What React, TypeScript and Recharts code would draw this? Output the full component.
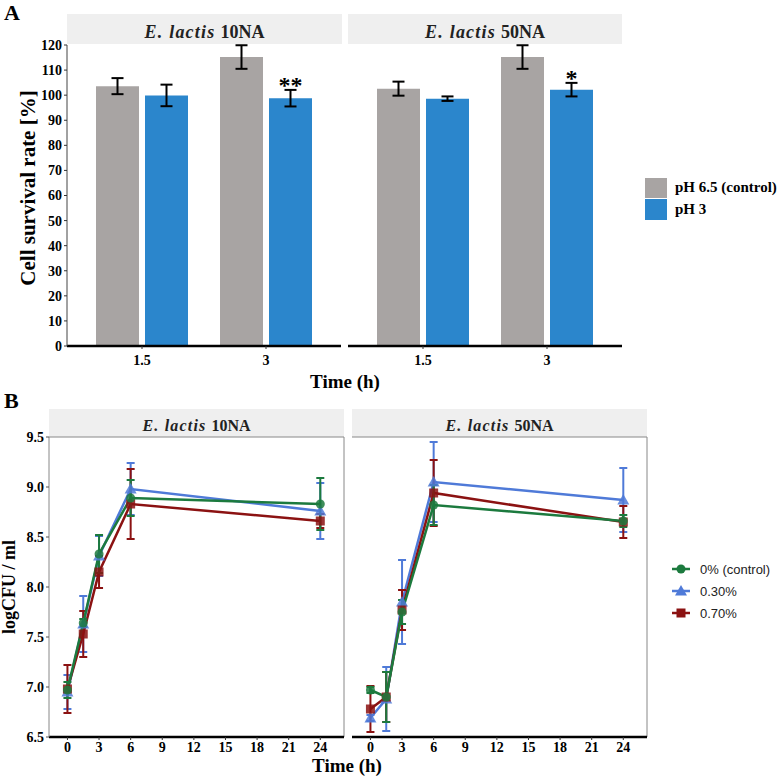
import React from "react";
import {
  Bar,
  BarChart,
  ErrorBar,
  LabelList,
  Line,
  LineChart,
  ReferenceLine,
  XAxis,
  YAxis,
} from "recharts";

const SERIF = "'Liberation Serif', 'Times New Roman', serif";
const SANS = "'Liberation Sans', Arial, sans-serif";

const GREY = "#a8a4a3";
const BLUE_BAR = "#2b86cc";
const GREEN = "#1c7a3e";
const BLUE = "#4f7ad8";
const RED = "#8b1212";

// panel A: survival after acid exposure
const phTimes = ["1.5", "3"];
const survivalTicks = [0, 10, 20, 30, 40, 50, 60, 70, 80, 90, 100, 110, 120];
const ctrl10 = [103.6, 115.2];
const ctrl10Sd = [3.2, 4.7];
const acid10 = [99.9, 98.8];
const acid10Sd = [4.3, 3.3];
const sig10 = ["", "**"];
const ctrl50 = [102.6, 115.2];
const ctrl50Sd = [2.8, 4.7];
const acid50 = [98.6, 102.2];
const acid50Sd = [0.9, 2.7];
const sig50 = ["", "*"];

// panel B: growth with bile salt
const hours = [0, 1.5, 3, 6, 24];
const hourTicks = [0, 3, 6, 9, 12, 15, 18, 21, 24];
const logTicks = [6.5, 7, 7.5, 8, 8.5, 9, 9.5];
const g10 = [6.97, 7.64, 8.33, 8.89, 8.83];
const g10Sd = [0.08, 0.04, 0.19, 0.18, 0.26];
const b10 = [6.95, 7.63, 8.31, 8.98, 8.76];
const b10Sd = [0.17, 0.28, 0.2, 0.26, 0.28];
const r10 = [6.98, 7.53, 8.15, 8.83, 8.66];
const r10Sd = [0.24, 0.23, 0.16, 0.35, 0.07];
const g50 = [6.97, 6.9, 7.75, 8.82, 8.66];
const g50Sd = [0.03, 0.25, 0.12, 0.2, 0.06];
const b50 = [6.69, 6.88, 7.85, 9.05, 8.87];
const b50Sd = [0.03, 0.32, 0.42, 0.4, 0.32];
const r50 = [6.78, 6.9, 7.77, 8.94, 8.65];
const r50Sd = [0.23, 0.25, 0.2, 0.33, 0.16];

const A_PLOT_H = 301;

const boldTick = { fill: "#000", fontSize: 14, fontWeight: 700, fontFamily: SERIF };

function Strip({ left, top, width, height, strain, size }: any) {
  return (
    <div
      style={{
        position: "absolute",
        left,
        top,
        width,
        height,
        background: "#efefef",
        display: "flex",
        alignItems: "flex-end",
        justifyContent: "center",
        fontFamily: SERIF,
        fontWeight: 700,
        fontSize: size,
        lineHeight: 1,
        paddingBottom: 3,
        boxSizing: "border-box",
        color: "#222",
      }}
    >
      <span style={{ fontStyle: "italic", letterSpacing: 1.2, marginRight: 5 }}>E. lactis</span>
      <span>{strain}</span>
    </div>
  );
}

function SurvivalFacet({ left, ctrl, ctrlSd, acid, acidSd, sig, showY }: any) {
  const rows = phTimes.map((t, i) => ({
    time: t,
    ctrl: ctrl[i],
    ctrlSd: ctrlSd[i],
    acid: acid[i],
    acidSd: acidSd[i],
    sig: sig[i],
  }));
  const w = showY ? 347 : 284;
  const starLabel = (p: any) => {
    const s = sig[p.index];
    if (!s) return null;
    const errPx = (acidSd[p.index] / 120) * A_PLOT_H;
    return (
      <text
        key={"s" + p.index}
        x={p.x + p.width / 2}
        y={p.y - errPx + 3}
        textAnchor="middle"
        fontSize={24}
        fontWeight={700}
        fontFamily={SERIF}
        fill="#000"
      >
        {s}
      </text>
    );
  };
  return (
    <div style={{ position: "absolute", left, top: 30 }}>
      <BarChart
        width={w}
        height={346}
        data={rows}
        margin={{ top: 15, right: 6, bottom: 0, left: showY ? 0 : 4 }}
        barSize={43}
        barGap={6}
      >
        <XAxis
          dataKey="time"
          height={30}
          padding={{ left: 13, right: 13 }}
          axisLine={{ stroke: "#000", strokeWidth: 2.5 }}
          tickLine={{ stroke: "#333" }}
          tickSize={3}
          tickMargin={6}
          tick={boldTick}
        />
        <YAxis
          yAxisId="l"
          domain={[0, 120]}
          ticks={survivalTicks}
          interval={0}
          width={showY ? 67 : 0}
          tick={showY ? boldTick : false}
          tickLine={showY ? { stroke: "#333" } : false}
          tickSize={3}
          tickMargin={2}
          axisLine={showY ? { stroke: "#444", strokeWidth: 1 } : { stroke: "#000", strokeWidth: 2.5 }}
        />
        <YAxis
          yAxisId="r"
          orientation="right"
          domain={[0, 120]}
          width={0}
          tick={false}
          tickLine={false}
          axisLine={{ stroke: "#000", strokeWidth: 2.5 }}
        />
        <Bar yAxisId="l" dataKey="ctrl" fill={GREY} isAnimationActive={false}>
          <ErrorBar dataKey="ctrlSd" direction="y" width={6} stroke="#000" strokeWidth={2} />
        </Bar>
        <Bar yAxisId="l" dataKey="acid" fill={BLUE_BAR} isAnimationActive={false}>
          <ErrorBar dataKey="acidSd" direction="y" width={6} stroke="#000" strokeWidth={2} />
          <LabelList dataKey="sig" content={starLabel} />
        </Bar>
      </BarChart>
    </div>
  );
}

const circleDot = (color: string) => (p: any) => (
  <circle key={"c" + p.index} cx={p.cx} cy={p.cy} r={4.5} fill={color} fillOpacity={0.85} />
);
const triDot = (color: string) => (p: any) => (
  <path
    key={"t" + p.index}
    d={`M${p.cx},${p.cy - 6}L${p.cx + 6},${p.cy + 4.5}L${p.cx - 6},${p.cy + 4.5}Z`}
    fill={color}
    fillOpacity={0.85}
  />
);
const squareDot = (color: string) => (p: any) => (
  <rect key={"q" + p.index} x={p.cx - 4.5} y={p.cy - 4.5} width={9} height={9} fill={color} fillOpacity={0.85} />
);

function GrowthFacet({ left, g, gSd, b, bSd, r, rSd, showY }: any) {
  const rows = hours.map((t, i) => ({
    t,
    g: g[i],
    gSd: gSd[i],
    b: b[i],
    bSd: bSd[i],
    r: r[i],
    rSd: rSd[i],
  }));
  const w = showY ? 350 : 305;
  return (
    <div style={{ position: "absolute", left, top: 425 }}>
      <LineChart width={w} height={340} data={rows} margin={{ top: 12, right: 6, bottom: 0, left: showY ? 0 : 4 }}>
        <XAxis
          type="number"
          dataKey="t"
          domain={[-1.75, 26.25]}
          allowDataOverflow
          ticks={hourTicks}
          interval={0}
          height={28}
          axisLine={{ stroke: "#000", strokeWidth: 2.5 }}
          tickLine={{ stroke: "#333" }}
          tickSize={3}
          tickMargin={2}
          tick={boldTick}
        />
        <YAxis
          domain={[6.5, 9.5]}
          allowDataOverflow
          ticks={logTicks}
          interval={0}
          tickFormatter={(v: number) => v.toFixed(1)}
          width={showY ? 49 : 0}
          tick={showY ? boldTick : false}
          tickLine={showY ? { stroke: "#555" } : false}
          tickSize={3}
          tickMargin={2}
          axisLine={{ stroke: "#888", strokeWidth: 1 }}
        />
        <ReferenceLine y={9.5} stroke="#888" strokeWidth={1} />
        <ReferenceLine x={26.25} stroke="#888" strokeWidth={1} />
        <Line dataKey="b" stroke={BLUE} strokeWidth={2.5} dot={triDot(BLUE)} activeDot={false} isAnimationActive={false}>
          <ErrorBar dataKey="bSd" direction="y" width={4} stroke={BLUE} strokeWidth={2} />
        </Line>
        <Line dataKey="r" stroke={RED} strokeWidth={2.5} dot={squareDot(RED)} activeDot={false} isAnimationActive={false}>
          <ErrorBar dataKey="rSd" direction="y" width={4} stroke={RED} strokeWidth={2} />
        </Line>
        <Line dataKey="g" stroke={GREEN} strokeWidth={2.5} dot={circleDot(GREEN)} activeDot={false} isAnimationActive={false}>
          <ErrorBar dataKey="gSd" direction="y" width={4} stroke={GREEN} strokeWidth={2} />
        </Line>
      </LineChart>
    </div>
  );
}

const abs = (s: any) => ({ position: "absolute" as const, ...s });

const phLegend = [
  { label: "pH 6.5 (control)", color: GREY },
  { label: "pH 3", color: BLUE_BAR },
];
const bileLegend = [
  { label: "0% (control)", color: GREEN, shape: "circle" },
  { label: "0.30%", color: BLUE, shape: "tri" },
  { label: "0.70%", color: RED, shape: "square" },
];

export default function App() {
  return (
    <div style={abs({ left: 0, top: 0, width: 778, height: 776, background: "#fff", overflow: "hidden" })}>
      <div style={abs({ left: 4, top: 0, fontFamily: SERIF, fontWeight: 700, fontSize: 22, color: "#000" })}>A</div>
      <div style={abs({ left: 4, top: 388, fontFamily: SERIF, fontWeight: 700, fontSize: 22, color: "#000" })}>B</div>

      <Strip left={67} top={14} width={275} height={30} strain="10NA" size={18} />
      <Strip left={348} top={14} width={274} height={30} strain="50NA" size={18} />
      <SurvivalFacet left={0} ctrl={ctrl10} ctrlSd={ctrl10Sd} acid={acid10} acidSd={acid10Sd} sig={sig10} showY />
      <SurvivalFacet left={344} ctrl={ctrl50} ctrlSd={ctrl50Sd} acid={acid50} acidSd={acid50Sd} sig={sig50} showY={false} />

      <div
        style={abs({
          left: 28,
          top: 188,
          transform: "translate(-50%, -50%) rotate(-90deg)",
          whiteSpace: "nowrap",
          fontFamily: SERIF,
          fontWeight: 700,
          fontSize: 21,
        })}
      >
        Cell survival rate [%]
      </div>
      <div style={abs({ left: 345, top: 382, transform: "translate(-50%, -50%)", fontFamily: SERIF, fontWeight: 700, fontSize: 19, whiteSpace: "nowrap" })}>
        Time (h)
      </div>

      <div style={abs({ left: 645, top: 177 })}>
        {phLegend.map((it) => (
          <div key={it.label} style={{ display: "flex", alignItems: "center", height: 21.5 }}>
            <div style={{ width: 22, height: 20.5, background: it.color, marginRight: 8 }} />
            <span style={{ fontFamily: SERIF, fontWeight: 700, fontSize: 15, whiteSpace: "nowrap" }}>{it.label}</span>
          </div>
        ))}
      </div>

      <Strip left={49} top={409} width={295} height={28} strain="10NA" size={16} />
      <Strip left={352} top={409} width={295} height={28} strain="50NA" size={16} />
      <GrowthFacet left={0} g={g10} gSd={g10Sd} b={b10} bSd={b10Sd} r={r10} rSd={r10Sd} showY />
      <GrowthFacet left={348} g={g50} gSd={g50Sd} b={b50} bSd={b50Sd} r={r50} rSd={r50Sd} showY={false} />

      <div
        style={abs({
          left: 9,
          top: 587,
          transform: "translate(-50%, -50%) rotate(-90deg)",
          whiteSpace: "nowrap",
          fontFamily: SERIF,
          fontWeight: 700,
          fontSize: 18,
        })}
      >
        logCFU / ml
      </div>
      <div style={abs({ left: 347, top: 766, transform: "translate(-50%, -50%)", fontFamily: SERIF, fontWeight: 700, fontSize: 19, whiteSpace: "nowrap" })}>
        Time (h)
      </div>

      <div style={abs({ left: 670, top: 558 })}>
        {bileLegend.map((it) => (
          <div key={it.label} style={{ display: "flex", alignItems: "center", height: 22 }}>
            <svg width={22} height={14} style={{ marginRight: 8 }}>
              <line x1={2} y1={7} x2={20} y2={7} stroke={it.color} strokeWidth={2.5} />
              {it.shape === "circle" && <circle cx={11} cy={7} r={4.5} fill={it.color} />}
              {it.shape === "tri" && <path d="M11,1L17,11.5L5,11.5Z" fill={it.color} />}
              {it.shape === "square" && <rect x={6.5} y={2.5} width={9} height={9} fill={it.color} />}
            </svg>
            <span style={{ fontFamily: SANS, fontSize: 13, color: "#222", whiteSpace: "nowrap" }}>{it.label}</span>
          </div>
        ))}
      </div>
    </div>
  );
}
